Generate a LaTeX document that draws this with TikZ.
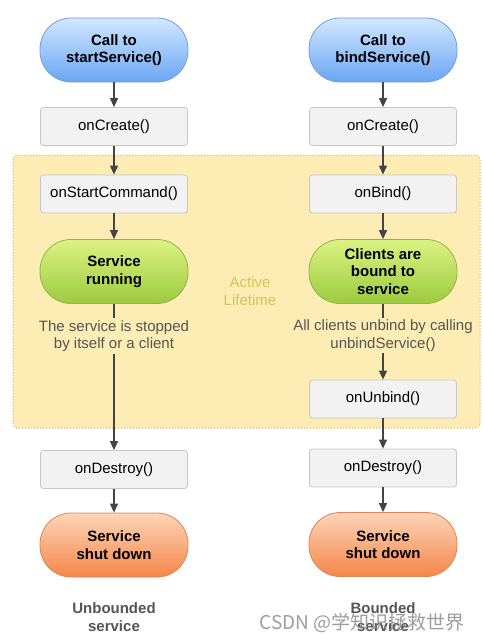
\documentclass[tikz,border=0pt]{standalone}
\usepackage{fontspec}
\setmainfont{Liberation Sans}
\newfontfamily\cjkfont{Noto Sans CJK SC}
\usetikzlibrary{arrows.meta}
\definecolor{bluetop}{HTML}{D2E8FF}
\definecolor{bluebot}{HTML}{6AA5F4}
\definecolor{blueline}{HTML}{6F9FE0}
\definecolor{greentop}{HTML}{DDF283}
\definecolor{greenbot}{HTML}{9BCB3E}
\definecolor{greenline}{HTML}{8DB54C}
\definecolor{orangetop}{HTML}{FDD5B8}
\definecolor{orangebot}{HTML}{F5864A}
\definecolor{orangeline}{HTML}{DF8452}
\definecolor{boxfill}{HTML}{F2F2F2}
\definecolor{boxline}{HTML}{C6C6C6}
\definecolor{zonefill}{HTML}{FDEDB4}
\definecolor{zoneline}{HTML}{E9A84A}
\definecolor{arrowgray}{HTML}{444444}
\definecolor{textgray}{HTML}{555555}
\definecolor{activecol}{HTML}{D6C35A}
\begin{document}
\begin{tikzpicture}[x=1pt,y=-1pt,
  font=\fontsize{15}{17.5}\selectfont,
  pill/.style={draw, line width=0.8pt, rounded corners=31pt, minimum width=148pt, minimum height=64pt,
    align=center, inner sep=0pt, font=\fontsize{15}{17.5}\selectfont\bfseries},
  bluepill/.style={pill, top color=bluetop, bottom color=bluebot, draw=blueline},
  greenpill/.style={pill, top color=greentop, bottom color=greenbot, draw=greenline},
  orangepill/.style={pill, top color=orangetop, bottom color=orangebot, draw=orangeline},
  cbbox/.style={draw=boxline, fill=boxfill, line width=0.8pt, rounded corners=3pt,
    minimum width=147pt, minimum height=38pt, inner sep=0pt},
  note/.style={align=center, text=textgray, inner sep=2pt},
  conn/.style={draw=arrowgray, line width=1.2pt},
  arr/.style={conn, -{Triangle[length=9pt,width=8pt]}},
  caption/.style={align=center, text=textgray, font=\fontsize{15}{17.5}\selectfont\bfseries}
]
\useasboundingbox (0,0) rectangle (482,642);
\fill[white] (0,0) rectangle (482,642);

% active lifetime zone
\draw[fill=zonefill, draw=zoneline, dotted, line width=1pt, rounded corners=4pt] (13,155) rectangle (480,428);
\node[text=activecol, align=center] (active) at (250,291) {Active\\Lifetime};

% left column
\node[bluepill] (ls) at (114,50) {Call to\\startService()};
\node[cbbox] (lc) at (114,126.5) {onCreate()};
\node[cbbox] (lsc) at (114,194) {onStartCommand()};
\node[greenpill] (lr) at (114,271.5) {Service\\running};
\node[note] (lt) at (114,336) {The service is stopped\\by itself or a client};
\node[cbbox] (ld) at (114,469.5) {onDestroy()};
\node[orangepill] (lo) at (114,545) {Service\\shut down};
\node[caption] (lcap) at (114,617) {Unbounded\\service};

% right column
\node[bluepill] (rs) at (383,50) {Call to\\bindService()};
\node[cbbox] (rc) at (383,126.5) {onCreate()};
\node[cbbox] (rb) at (383,194) {onBind()};
\node[greenpill] (rr) at (383,271.5) {Clients are\\bound to\\service};
\node[note] (rt) at (383,335.5) {All clients unbind by calling\\unbindService()};
\node[cbbox] (ru) at (383,399) {onUnbind()};
\node[cbbox] (rd) at (383,468) {onDestroy()};
\node[orangepill] (ro) at (383,544.5) {Service\\shut down};
\node[caption] (rcap) at (383,617) {Bounded\\service};

% connectors left
\draw[arr] (ls) -- (lc);
\draw[arr] (lc) -- (lsc);
\draw[arr] (lsc) -- (lr);
\draw[conn] (lr) -- (lt);
\draw[arr] (lt) -- (ld);
\draw[arr] (ld) -- (lo);

% connectors right
\draw[arr] (rs) -- (rc);
\draw[arr] (rc) -- (rb);
\draw[arr] (rb) -- (rr);
\draw[conn] (rr) -- (rt);
\draw[arr] (rt) -- (ru);
\draw[arr] (ru) -- (rd);
\draw[arr] (rd) -- (ro);

% watermark
\node[text=black!45, opacity=0.85, font=\cjkfont\fontsize{19}{21}\selectfont, anchor=west] (wm) at (256,623) {CSDN @学知识拯救世界};
\end{tikzpicture}
\end{document}
